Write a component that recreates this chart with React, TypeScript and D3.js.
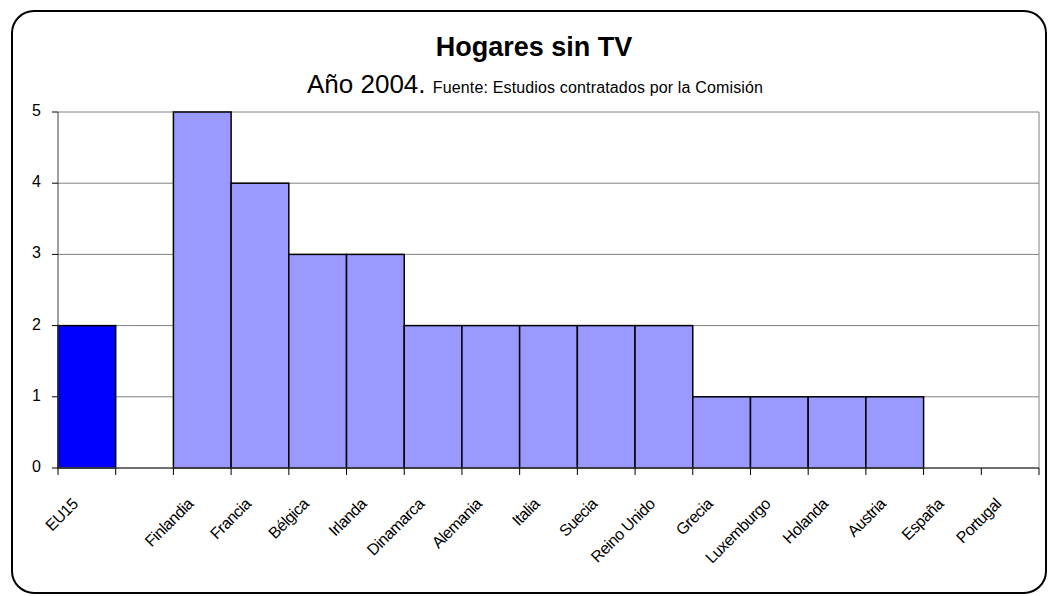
import React, { useRef, useEffect } from 'react';
import * as d3 from 'd3';

const categories = ['EU15', '', 'Finlandia', 'Francia', 'Bélgica', 'Irlanda', 'Dinamarca', 'Alemania', 'Italia', 'Suecia', 'Reino Unido', 'Grecia', 'Luxemburgo', 'Holanda', 'Austria', 'España', 'Portugal'];
const values = [2, 0, 5, 4, 3, 3, 2, 2, 2, 2, 2, 1, 1, 1, 1, 0, 0];
const yTicks = [0, 1, 2, 3, 4, 5];

const W = 1049;
const H = 596;

const App: React.FC = () => {
  const svgRef = useRef<SVGSVGElement | null>(null);

  useEffect(() => {
    if (!svgRef.current) return;
    const svg = d3.select(svgRef.current);
    svg.selectAll('*').remove();

    const plot = { left: 58, right: 1039, top: 112, bottom: 468 };
    const font = 'Liberation Sans, Arial, sans-serif';

    // outer frame
    svg.append('rect')
      .attr('x', 12).attr('y', 11)
      .attr('width', 1034).attr('height', 582)
      .attr('rx', 22).attr('ry', 22)
      .attr('fill', '#fff')
      .attr('stroke', '#000')
      .attr('stroke-width', 2);

    const x = d3.scaleBand<string>()
      .domain(categories.map((c, i) => `${i}`))
      .range([plot.left, plot.right])
      .padding(0);
    const y = d3.scaleLinear().domain([0, 5]).range([plot.bottom, plot.top]);

    // gridlines
    yTicks.filter(t => t > 0).forEach(t => {
      svg.append('line')
        .attr('x1', plot.left).attr('x2', plot.right)
        .attr('y1', y(t)).attr('y2', y(t))
        .attr('stroke', '#808080').attr('stroke-width', 1);
    });
    // right border of plot area
    svg.append('line')
      .attr('x1', plot.right).attr('x2', plot.right)
      .attr('y1', plot.top).attr('y2', plot.bottom)
      .attr('stroke', '#808080').attr('stroke-width', 1);

    // bars
    values.forEach((v, i) => {
      if (v <= 0) return;
      svg.append('rect')
        .attr('x', x(`${i}`)!)
        .attr('y', y(v))
        .attr('width', x.bandwidth())
        .attr('height', y(0) - y(v))
        .attr('fill', i === 0 ? '#0000ff' : '#9999ff')
        .attr('stroke', '#000')
        .attr('stroke-width', 1.5);
    });

    // y axis
    svg.append('line')
      .attr('x1', plot.left).attr('x2', plot.left)
      .attr('y1', plot.top).attr('y2', plot.bottom)
      .attr('stroke', '#404040').attr('stroke-width', 1);
    yTicks.forEach(t => {
      svg.append('line')
        .attr('x1', plot.left - 6).attr('x2', plot.left)
        .attr('y1', y(t)).attr('y2', y(t))
        .attr('stroke', '#000').attr('stroke-width', 1);
      svg.append('text')
        .attr('x', 41).attr('y', y(t) + 4)
        .attr('text-anchor', 'end')
        .attr('font-family', font)
        .attr('font-size', 16)
        .attr('fill', '#000')
        .text(t);
    });

    // x axis
    svg.append('line')
      .attr('x1', plot.left).attr('x2', plot.right)
      .attr('y1', plot.bottom).attr('y2', plot.bottom)
      .attr('stroke', '#404040').attr('stroke-width', 1.5);
    categories.forEach((c, i) => {
      const x0 = x(`${i}`)!;
      svg.append('line')
        .attr('x1', x0).attr('x2', x0)
        .attr('y1', plot.bottom).attr('y2', plot.bottom + 7)
        .attr('stroke', '#000').attr('stroke-width', 1);
      if (i === categories.length - 1) {
        svg.append('line')
          .attr('x1', plot.right).attr('x2', plot.right)
          .attr('y1', plot.bottom).attr('y2', plot.bottom + 7)
          .attr('stroke', '#000').attr('stroke-width', 1);
      }
      if (!c) return;
      const cx = x0 + x.bandwidth() / 2 - 8;
      const ay = plot.bottom + 37;
      svg.append('text')
        .attr('transform', `translate(${cx},${ay}) rotate(-45)`)
        .attr('text-anchor', 'end')
        .attr('font-family', font)
        .attr('font-size', 16)
        .attr('letter-spacing', -0.5)
        .attr('fill', '#000')
        .text(c);
    });

    // titles
    svg.append('text')
      .attr('x', 534).attr('y', 56)
      .attr('text-anchor', 'middle')
      .attr('font-family', font)
      .attr('font-size', 27)
      .attr('font-weight', 'bold')
      .attr('fill', '#000')
      .text('Hogares sin TV');

    const sub = svg.append('text')
      .attr('x', 307).attr('y', 93)
      .attr('font-family', font)
      .attr('fill', '#000');
    sub.append('tspan').attr('font-size', 26).text('Año 2004. ');
    sub.append('tspan').attr('font-size', 16).attr('letter-spacing', 0.15)
      .text('Fuente: Estudios contratados por la Comisión');
  }, []);

  return <svg ref={svgRef} width={W} height={H} style={{ display: 'block', position: 'absolute', left: 0, top: 0 }} />;
};

export default App;
